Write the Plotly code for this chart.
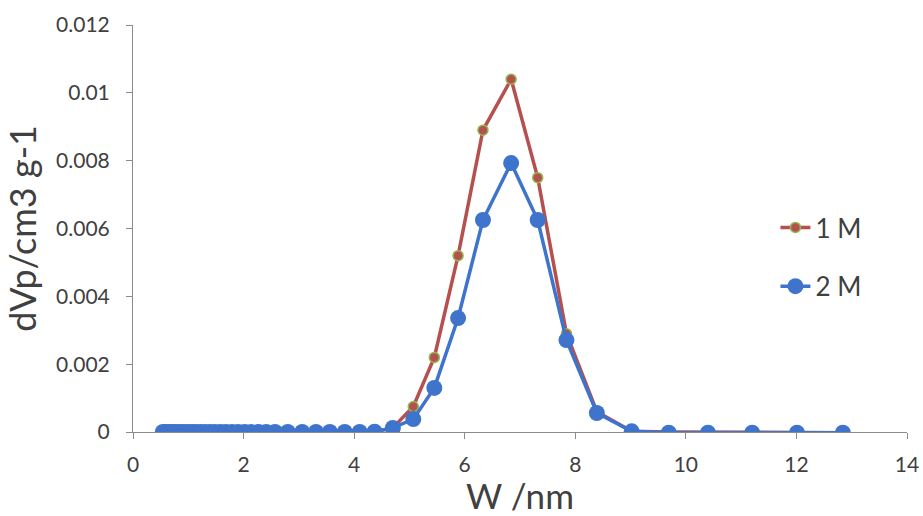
import plotly.graph_objects as go

# Pore width (nm)
w_nm = [0.54, 0.59, 0.64, 0.69, 0.75, 0.81, 0.87, 0.93, 1.00, 1.07, 1.14, 1.22,
        1.30, 1.39, 1.48, 1.58, 1.68, 1.79, 1.90, 2.02, 2.14, 2.27, 2.41, 2.57,
        2.80, 3.06, 3.31, 3.56, 3.83, 4.10, 4.37, 4.70, 5.07, 5.45, 5.88, 6.33,
        6.84, 7.32, 7.84, 8.39, 9.02, 9.69, 10.40, 11.20, 12.01, 12.84]

# dVp (cm3 g-1)
dv_1m = [0, 0, 0, 0, 0, 0, 0, 0, 0, 0, 0, 0,
         0, 0, 0, 0, 0, 0, 0, 0, 0, 0, 0, 0,
         0, 0, 0, 0, 0, 0, 0.00001, 0.00012, 0.00075, 0.0022, 0.0052, 0.0089,
         0.0104, 0.0075, 0.0029, 0.0006, 0.00002, 0, -0.00001, -0.00002, -0.00002, -0.00002]

dv_2m = [0, 0, 0, 0, 0, 0, 0, 0, 0, 0, 0, 0,
         0, 0, 0, 0, 0, 0, 0, 0, 0, 0, 0, 0,
         0, 0, 0, 0, 0, 0, 0.00001, 0.00012, 0.00038, 0.0013, 0.00336, 0.00625,
         0.00793, 0.00625, 0.00271, 0.00056, 0.00002, -0.00002, -0.00002, -0.00002, -0.00002, -0.00002]

x_ticks = [0, 2, 4, 6, 8, 10, 12, 14]
y_ticks = [0, 0.002, 0.004, 0.006, 0.008, 0.01, 0.012]
y_tick_text = ["0", "0.002", "0.004", "0.006", "0.008", "0.01", "0.012"]

FONT = "Lato"
TXT = "#404040"

fig = go.Figure()
fig.add_trace(go.Scatter(
    x=w_nm, y=dv_1m, name="1 M", mode="lines+markers", legendgroup="a",
    line=dict(color="#B5504E", width=3.5),
    marker=dict(size=10, color="#B5504E", line=dict(color="#8DBB4F", width=1.5)),
))
fig.add_trace(go.Scatter(
    x=w_nm, y=dv_2m, name="2 M", mode="lines+markers", legendgroup="b",
    line=dict(color="#3F74CC", width=3.5),
    marker=dict(size=16, color="#3F74CC"),
))

fig.update_layout(
    width=923, height=516,
    margin=dict(l=133, r=16, t=25, b=84),
    paper_bgcolor="white", plot_bgcolor="white",
    font=dict(family=FONT, color=TXT),
    showlegend=True,
    legend=dict(x=0.83, y=0.43, xanchor="left", yanchor="middle",
                font=dict(size=26, color=TXT), bgcolor="rgba(0,0,0,0)",
                tracegroupgap=22),
    xaxis=dict(
        range=[0, 14], tickvals=x_ticks, ticktext=[str(v) for v in x_ticks],
        automargin=False,
        showgrid=False, zeroline=False, showline=True, linecolor="#8C8C8C", linewidth=1,
        ticks="outside", ticklen=6, tickcolor="#8C8C8C",
        tickfont=dict(size=21, color=TXT), ticklabelstandoff=8,
        title=dict(text="W /nm", font=dict(size=35, color=TXT), standoff=14),
    ),
    yaxis=dict(
        range=[0, 0.012], tickvals=y_ticks, ticktext=y_tick_text,
        automargin=False,
        showgrid=False, zeroline=False, showline=True, linecolor="#8C8C8C", linewidth=1,
        ticks="outside", ticklen=6, tickcolor="#8C8C8C",
        tickfont=dict(size=21, color=TXT), ticklabelstandoff=12,
        title=dict(text="dVp/cm3 g-1", font=dict(size=36, color=TXT), standoff=8),
    ),
)

fig.write_html("out.html")
